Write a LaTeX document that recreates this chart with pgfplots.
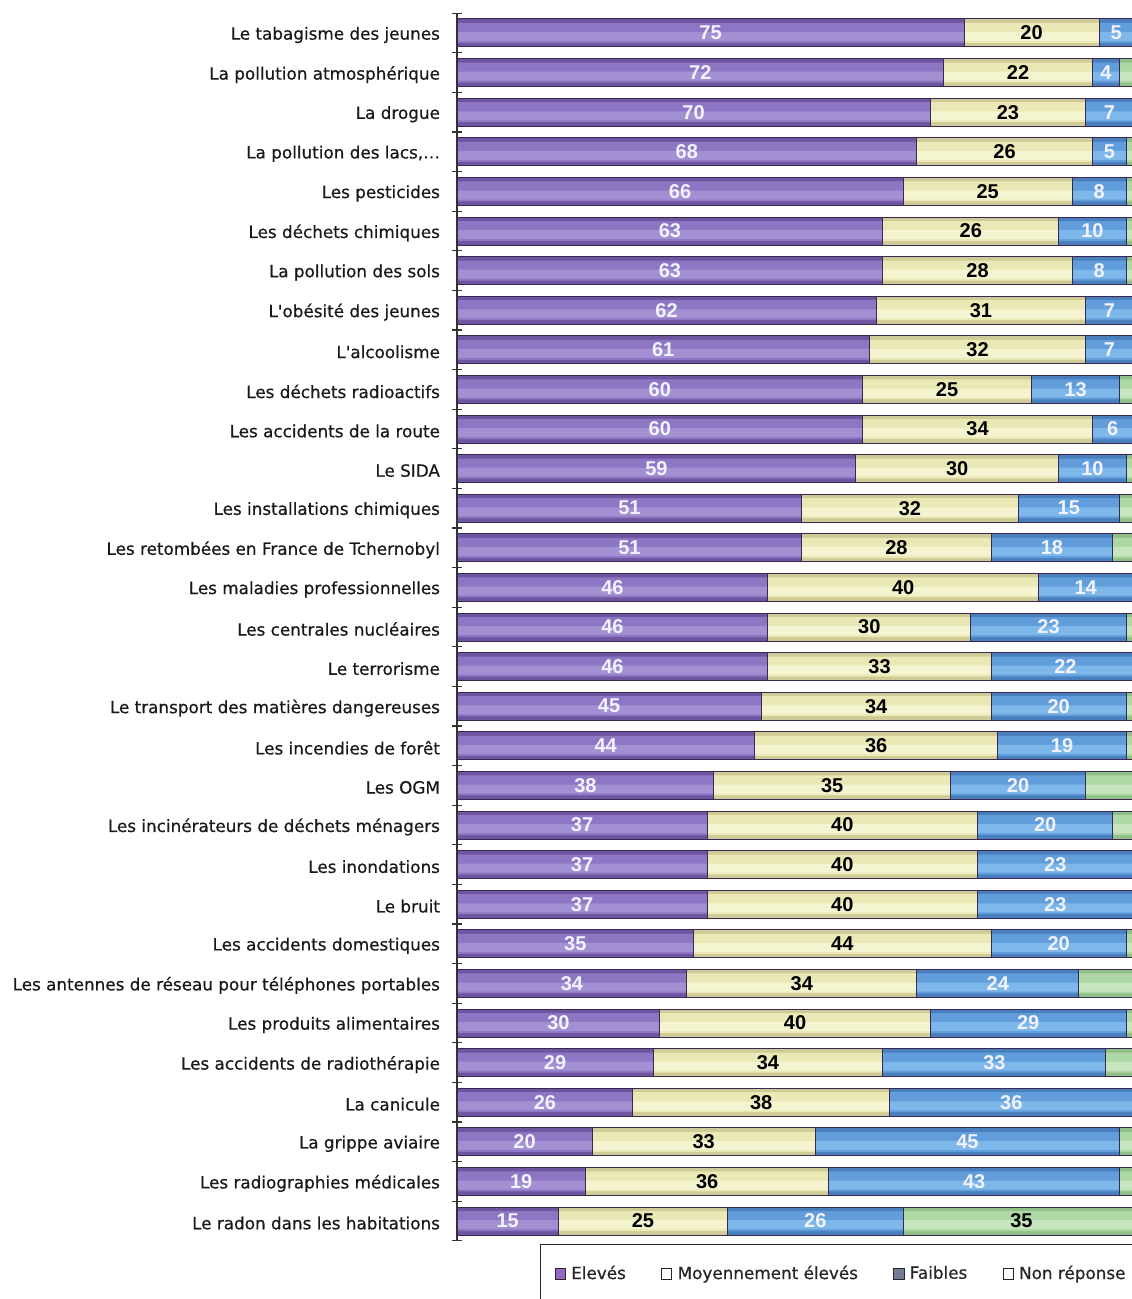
\documentclass[border=0pt]{standalone}
\usepackage{pgfplots}
\usepackage{pgfplotstable}
\pgfplotsset{compat=1.18}
\usepackage{fontspec}
\setmainfont{DejaVu Sans}
\newfontface\lblfont{DejaVu Sans}[FakeBold=0.6]
\newfontfamily\numfont{Liberation Sans}

% bar colours: shadow / body / highlight
\definecolor{purpA}{HTML}{6E559F}
\definecolor{purpB}{HTML}{8D76C3}
\definecolor{purpC}{HTML}{A290D3}
\definecolor{yellA}{HTML}{CFCB96}
\definecolor{yellB}{HTML}{EAE8B4}
\definecolor{yellC}{HTML}{F5F4D0}
\definecolor{blueA}{HTML}{4A7FBE}
\definecolor{blueB}{HTML}{609DDA}
\definecolor{blueC}{HTML}{7EB7EA}
\definecolor{grenA}{HTML}{90BF88}
\definecolor{grenB}{HTML}{AED8A5}
\definecolor{grenC}{HTML}{C7E6BF}
\definecolor{barline}{HTML}{3A2852}
\definecolor{lblwhite}{HTML}{F2F2FF}
\definecolor{legpurp}{HTML}{9466C4}
\definecolor{leggray}{HTML}{737C96}

% Elevés / Moyennement élevés / Faibles / Non réponse
\pgfplotstableread{
e  m  f  n
75 20 5  0
72 22 4  2
70 23 7  0
68 26 5  1
66 25 8  1
63 26 10 1
63 28 8  1
62 31 7  0
61 32 7  0
60 25 13 2
60 34 6  0
59 30 10 1
51 32 15 2
51 28 18 3
46 40 14 0
46 30 23 1
46 33 22 0
45 34 20 1
44 36 19 1
38 35 20 7
37 40 20 3
37 40 23 0
37 40 23 0
35 44 20 1
34 34 24 8
30 40 29 1
29 34 33 4
26 38 36 0
20 33 45 2
19 36 43 2
15 25 26 35
}\data

\pgfplotsset{
  layer/.style 2 args={forget plot, xbar, mark=none, bar width=#1, bar shift=#2, draw=none},
  seglabel/.style={forget plot, mark=none, draw=none, nodes near coords,
    point meta=explicit symbolic,
    every node near coord/.style={anchor=center, inner sep=0pt,
      font=\fontsize{10}{12}\selectfont\numfont\bfseries, #1}},
  sqimg/.style={legend image code/.code={%
    \draw[draw=black!85, line width=0.5pt, fill=#1] (0pt,-2.6pt) rectangle (5.2pt,2.6pt);}},
}
% one series: shadow, body, highlight, then the outline
\newcommand{\segbars}[2]{%
  \addplot[layer={14pt}{0pt}, fill=#2A] table[x expr=#1, y expr=\coordindex] {\data};
  \addplot[layer={10pt}{0pt}, fill=#2B] table[x expr=#1, y expr=\coordindex] {\data};
  \addplot[layer={4.5pt}{-1.8pt}, fill=#2C] table[x expr=#1, y expr=\coordindex] {\data};
  \addplot[layer={14pt}{0pt}, fill=none, draw=barline, line width=0.5pt] table[x expr=#1, y expr=\coordindex] {\data};
}

\begin{document}
\begin{tikzpicture}
\useasboundingbox (0,0) rectangle (565.5pt,649.5pt);
\begin{axis}[
  at={(228.5pt,29.1pt)}, anchor=south west,
  scale only axis, width=338pt, height=613.8pt,
  xmin=0, xmax=100, ymin=-0.5, ymax=30.5, y dir=reverse,
  axis x line=none, axis y line*=left,
  y axis line style={black!80, line width=0.6pt},
  ytick={0,...,30},
  yticklabels={
    Le tabagisme des jeunes,
    La pollution atmosphérique,
    La drogue,
    {La pollution des lacs,\ldots},
    Les pesticides,
    Les déchets chimiques,
    La pollution des sols,
    L'obésité des jeunes,
    L'alcoolisme,
    Les déchets radioactifs,
    Les accidents de la route,
    Le SIDA,
    Les installations chimiques,
    Les retombées en France de Tchernobyl,
    Les maladies professionnelles,
    Les centrales nucléaires,
    Le terrorisme,
    Le transport des matières dangereuses,
    Les incendies de forêt,
    Les OGM,
    Les incinérateurs de déchets ménagers,
    Les inondations,
    Le bruit,
    Les accidents domestiques,
    Les antennes de réseau pour téléphones portables,
    Les produits alimentaires,
    Les accidents de radiothérapie,
    La canicule,
    La grippe aviaire,
    Les radiographies médicales,
    Le radon dans les habitations},
  major tick length=0pt,
  minor ytick={-0.5,0.5,...,30.5},
  minor tick length=5pt, tick align=center,
  minor tick style={black!80, line width=0.6pt},
  yticklabel style={font=\lblfont\fontsize{8.4}{10}\selectfont, text=black!90, xshift=-5pt, yshift=-1pt},
  clip=false,
  legend columns=4,
  legend style={at={(axis description cs:0.1228,0)}, anchor=north west, yshift=-1.6pt,
    draw=black!85, line width=0.6pt, font=\lblfont\fontsize{8.4}{10}\selectfont,
    inner xsep=7pt, inner ysep=8.5pt,
    /tikz/every even column/.append style={column sep=15pt},
    nodes={inner xsep=2.6pt, text=black!85}},
  legend cell align=left,
]
% segments drawn from the full length down to the first one
\segbars{\thisrow{e}+\thisrow{m}+\thisrow{f}+\thisrow{n}}{gren}
\segbars{\thisrow{e}+\thisrow{m}+\thisrow{f}}{blue}
\segbars{\thisrow{e}+\thisrow{m}}{yell}
\segbars{\thisrow{e}}{purp}

% value labels centred in each segment
\addplot[seglabel=lblwhite] table[x expr=\thisrow{e}/2, y expr=\coordindex, meta=e] {\data};
\addplot[seglabel=black] table[x expr=\thisrow{e}+\thisrow{m}/2, y expr=\coordindex, meta=m] {\data};
\addplot[seglabel=lblwhite] table[x expr=\thisrow{e}+\thisrow{m}+\thisrow{f}/2, y expr=\coordindex, meta=f] {\data};
\addplot[forget plot, mark=none, draw=none, point meta=explicit symbolic,
  nodes near coords={\ifnum\pgfplotspointmeta>9 \pgfplotspointmeta\fi},
  every node near coord/.style={anchor=center, inner sep=0pt, font=\fontsize{10}{12}\selectfont\numfont\bfseries, black}]
  table[x expr=\thisrow{e}+\thisrow{m}+\thisrow{f}+\thisrow{n}/2, y expr=\coordindex, meta=n] {\data};

\addlegendimage{sqimg=legpurp}
\addlegendentry{Elevés}
\addlegendimage{sqimg=white}
\addlegendentry{Moyennement élevés}
\addlegendimage{sqimg=leggray}
\addlegendentry{Faibles}
\addlegendimage{sqimg=white}
\addlegendentry{Non réponse\hspace{14pt}}
\end{axis}
\end{tikzpicture}
\end{document}
